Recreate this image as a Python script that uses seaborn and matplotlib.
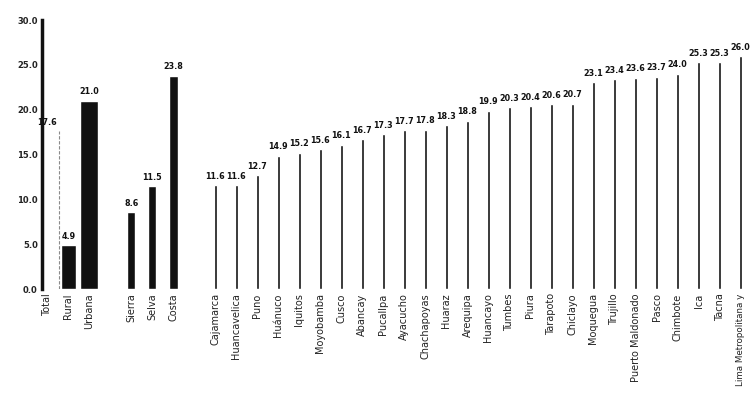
import matplotlib
matplotlib.use("Agg")
import matplotlib.pyplot as plt
import seaborn as sns
import pandas as pd

sns.set_style("white")
plt.rcParams['font.family'] = ['DejaVu Sans']

group1 = ["Total", "Rural", "Urbana"]
group1_values = [17.6, 4.9, 21.0]
group2 = ["Sierra", "Selva", "Costa"]
group2_values = [8.6, 11.5, 23.8]
cities = ["Cajamarca", "Huancavelica", "Puno", "Huánuco", "Iquitos", "Moyobamba",
          "Cusco", "Abancay", "Pucallpa", "Ayacucho", "Chachapoyas", "Huaraz",
          "Arequipa", "Huancayo", "Tumbes", "Piura", "Tarapoto", "Chiclayo",
          "Moquegua", "Trujillo", "Puerto Maldonado", "Pasco", "Chimbote", "Ica",
          "Tacna", "Lima Metropolitana y"]
city_values = [11.6, 11.6, 12.7, 14.9, 15.2, 15.6, 16.1, 16.7, 17.3, 17.7, 17.8,
               18.3, 18.8, 19.9, 20.3, 20.4, 20.6, 20.7, 23.1, 23.4, 23.6, 23.7,
               24.0, 25.3, 25.3, 26.0]
y_ticks = [0, 5, 10, 15, 20, 25, 30]

gap1, gap2 = " ", "  "
order = group1 + [gap1] + group2 + [gap2] + cities
df = pd.DataFrame({
    "cat": group1 + group2 + cities,
    "val": group1_values + group2_values + city_values,
})
bar_cats = [c for c in order if c.strip()]

fig = plt.figure(figsize=(7.5, 3.95), dpi=100)
ax = fig.add_axes([0.056, 0.268, 0.944, 0.681])
sns.barplot(data=df, x="cat", y="val", order=order, color="#111111",
            ax=ax, width=0.8, errorbar=None, saturation=1)

# per-bar widths / styles to mimic the scanned look
widths = {"Total": 1.1, "Rural": 0.7, "Urbana": 0.85,
          "Sierra": 0.38, "Selva": 0.38, "Costa": 0.42}
for patch, cat in zip(ax.patches, bar_cats):
    w = widths.get(cat, 0.15)
    cx = patch.get_x() + patch.get_width() / 2
    patch.set_x(cx - w / 2)
    patch.set_width(w)
    if cat == "Total":
        patch.set_facecolor("white")
        patch.set_edgecolor("none")
        ax.vlines(patch.get_x() + w, 0, patch.get_height(), color="#8a8a8a",
                  lw=0.8, ls=(0, (3, 1.5)))

for patch, cat, v in zip(ax.patches, bar_cats, df["val"]):
    cx = patch.get_x() + patch.get_width() / 2
    ax.text(cx, v + 0.5, f"{v:.1f}", ha="center", va="bottom",
            fontsize=5.8, fontweight="bold", color="#111111")

ax.set_ylim(0, 30)
ax.set_xlim(-0.25, 33.45)
ax.set_yticks(y_ticks)
ax.set_yticklabels([f"{t:.1f}" for t in y_ticks], fontsize=6, fontweight="bold",
                   color="#222222")
ax.set_xticks(range(len(order)))
ax.set_xticklabels(order, rotation=90, fontsize=7, color="#222222")
ax.get_xticklabels()[-1].set_fontsize(6.3)
ax.tick_params(axis="both", length=0, pad=3)
ax.set_xlabel("")
ax.set_ylabel("")
for s in ["top", "right", "bottom"]:
    ax.spines[s].set_visible(False)
ax.spines["left"].set_linewidth(2.5)
ax.spines["left"].set_color("#111111")
ax.spines["left"].set_zorder(5)
ax.axhline(0, color="#999999", lw=0.6, ls=(0, (2, 2)))

fig.savefig("out.png", dpi=100)
